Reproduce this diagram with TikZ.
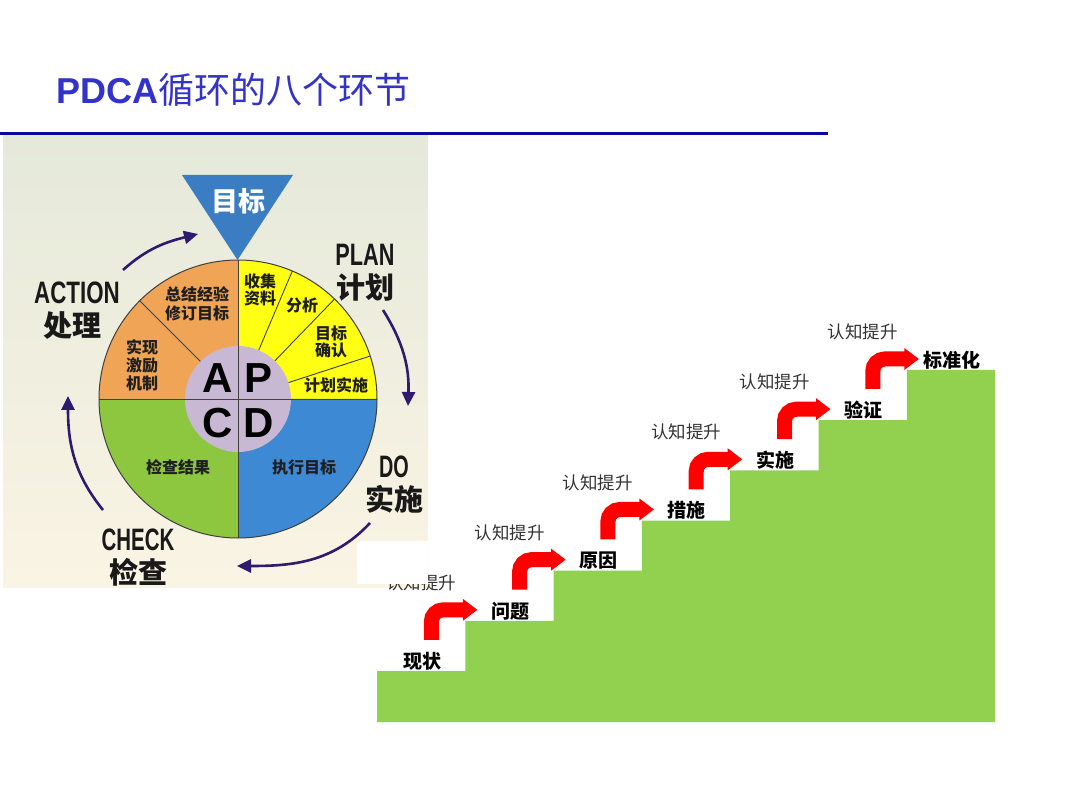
\documentclass[tikz,border=0pt]{standalone}
\usepackage{fontspec}
\setmainfont{Liberation Sans}
\newfontfamily\cjk{Noto Sans CJK SC}
\usetikzlibrary{arrows.meta,calc}
\definecolor{titleblue}{HTML}{3333CC}
\definecolor{lineblue}{HTML}{0A0A9E}
\definecolor{qorange}{HTML}{F0A456}
\definecolor{qyellow}{HTML}{FFFF14}
\definecolor{qgreen}{HTML}{8DC63F}
\definecolor{qblue}{HTML}{3D89D4}
\definecolor{qlilac}{HTML}{C9B8D4}
\definecolor{triblue}{HTML}{3A7DC2}
\definecolor{cyc}{HTML}{2E1A6E}
\definecolor{stairgreen}{HTML}{92D050}
\definecolor{arrowred}{HTML}{FF0000}
\definecolor{panelA}{HTML}{E5E9DA}
\definecolor{panelB}{HTML}{FAF4E4}
\definecolor{wheelline}{HTML}{404040}
\definecolor{grytext}{HTML}{333333}
\begin{document}
\begin{tikzpicture}[x=1pt,y=1pt,
  wtext/.style={font=\cjk\bfseries\fontsize{16}{17.5}\selectfont, text=black!88, align=center, inner sep=0pt},
  apcd/.style={font=\bfseries\fontsize{42}{42}\selectfont, text=black, inner sep=0pt},
  latlbl/.style={font=\bfseries\fontsize{31}{31}\selectfont, text=black!90, inner sep=0pt},
  cjklbl/.style={font=\cjk\bfseries\fontsize{29}{29}\selectfont, text=black!90, inner sep=0pt},
  steplbl/.style={font=\cjk\bfseries\fontsize{19}{19}\selectfont, text=black, inner sep=0pt},
  risetxt/.style={font=\cjk\fontsize{17.5}{17.5}\selectfont, text=grytext, inner sep=0pt},
  cycarrow/.style={draw=cyc, line width=2.6pt, -{Triangle[length=14pt,width=13pt]}},
  redstem/.style={draw=arrowred, line width=15pt},
  divider/.style={draw=wheelline, line width=0.9pt}
]
\useasboundingbox (0,0) rectangle (1080,-810);
\fill[white] (0,0) rectangle (1080,-810);

% title
\node[anchor=west, text=titleblue, inner sep=0pt] (title) at (56,-90)
  {\fontsize{36}{40}\selectfont\bfseries PDCA{\cjk\mdseries 循环的八个环节}};
\draw[lineblue, line width=3pt] (0,-133.5) -- (828,-133.5);

% staircase
\fill[stairgreen] (377,-722) -- (377,-671) -- (465.3,-671) -- (465.3,-620.8)
  -- (553.6,-620.8) -- (553.6,-570.7) -- (641.9,-570.7) -- (641.9,-520.5)
  -- (730.2,-520.5) -- (730.2,-470.3) -- (818.5,-470.3) -- (818.5,-420.2)
  -- (906.8,-420.2) -- (906.8,-370) -- (995,-370) -- (995,-722) -- cycle;
\foreach \k/\nm in {0/现状,1/问题,2/原因,3/措施,4/实施,5/验证,6/标准化} {
  \pgfmathsetmacro\L{377+88.3*\k}
  \pgfmathsetmacro\T{671-50.17*\k}
  \node[steplbl] (s\k) at (\L+45,-\T+10) {\nm};
}
\foreach \k in {1,...,6} {
  \pgfmathsetmacro\L{377+88.3*\k}
  \pgfmathsetmacro\T{671-50.17*\k}
  \draw[redstem] (\L-34,-\T-19) -- (\L-34,-\T-1) arc (180:90:12) -- (\L-2,-\T+11);
  \fill[arrowred] (\L-2.5,-\T+22) -- (\L+12,-\T+11) -- (\L-2.5,-\T) -- cycle;
}
\foreach \k in {2,...,6} {
  \pgfmathsetmacro\L{377+88.3*\k}
  \pgfmathsetmacro\T{671-50.17*\k}
  \node[risetxt] (r\k) at (\L-44,-\T+38) {认知提升};
}

% left panel
\shade[top color=panelA, bottom color=panelB] (3,-136) rectangle (428,-587);
\node[risetxt] (r1) at (465.3-44,-620.8+38) {认知提升};
\fill[white] (357,-541) rectangle (428,-583.5);

% wheel
\coordinate (O) at (238,-399);
\fill[qorange] (O) -- ++(90:139) arc (90:180:139) -- cycle;
\fill[qyellow] (O) -- ++(0:139) arc (0:90:139) -- cycle;
\fill[qgreen] (O) -- ++(180:139) arc (180:270:139) -- cycle;
\fill[qblue] (O) -- ++(270:139) arc (270:360:139) -- cycle;
\foreach \a in {135,67,46,18} {
  \draw[divider] ($(O)+(\a:53)$) -- ($(O)+(\a:139)$);
}
\fill[qlilac] (O) circle (53);
\draw[divider] ($(O)+(0,139)$) -- ($(O)+(0,-139)$);
\draw[divider] ($(O)+(-139,0)$) -- ($(O)+(139,0)$);
\draw[wheelline, line width=1pt] (O) circle (139);

\node[apcd] (A) at (218,-378) {A};
\node[apcd] (P) at (259,-378) {P};
\node[apcd] (C) at (218,-423) {C};
\node[apcd] (D) at (259,-423) {D};

\node[wtext] (w1) at (260,-290) {收集\\资料};
\node[wtext] (w2) at (302,-305) {分析};
\node[wtext] (w3) at (331,-342) {目标\\确认};
\node[wtext] (w4) at (336,-385) {计划实施};
\node[wtext, font=\cjk\bfseries\fontsize{16}{18.5}\selectfont] (w5) at (197,-304) {总结经验\\修订目标};
\node[wtext, font=\cjk\bfseries\fontsize{16}{18}\selectfont] (w6) at (142,-365) {实现\\激励\\机制};
\node[wtext] (w7) at (178,-467) {检查结果};
\node[wtext] (w8) at (304,-467) {执行目标};

% target triangle
\fill[triblue] (182,-175) -- (293,-175) -- (237.5,-260) -- cycle;
\node[font=\cjk\bfseries\fontsize{27}{27}\selectfont, text=white, inner sep=0pt] (goal) at (238,-201) {目标};

% phase labels
\node[latlbl] (plan) at (365,-255) {\scalebox{0.7}[1]{PLAN}};
\node[cjklbl] (plancn) at (365,-288) {计划};
\node[latlbl] (do) at (394,-467) {\scalebox{0.64}[1]{DO}};
\node[cjklbl] (docn) at (394,-499) {实施};
\node[latlbl] (check) at (138,-540) {\scalebox{0.66}[1]{CHECK}};
\node[cjklbl] (checkcn) at (138,-572) {检查};
\node[latlbl] (action) at (77,-293) {\scalebox{0.72}[1]{ACTION}};
\node[cjklbl] (actioncn) at (72,-326) {处理};

% cycle arrows
\coordinate (a1s) at (123,-270); \coordinate (a1e) at (198,-234);
\coordinate (a2s) at (383,-310); \coordinate (a2e) at (408,-406);
\coordinate (a3s) at (370,-523); \coordinate (a3e) at (237,-566);
\coordinate (a4s) at (103,-510); \coordinate (a4e) at (68,-396);
\draw[cycarrow] (a1s) to[out=42,in=194] (a1e);
\draw[cycarrow] (a2s) to[out=-58,in=88] (a2e);
\draw[cycarrow] (a3s) to[out=-133,in=0] (a3e);
\draw[cycarrow] (a4s) to[out=129,in=-90] (a4e);
\end{tikzpicture}
\end{document}
